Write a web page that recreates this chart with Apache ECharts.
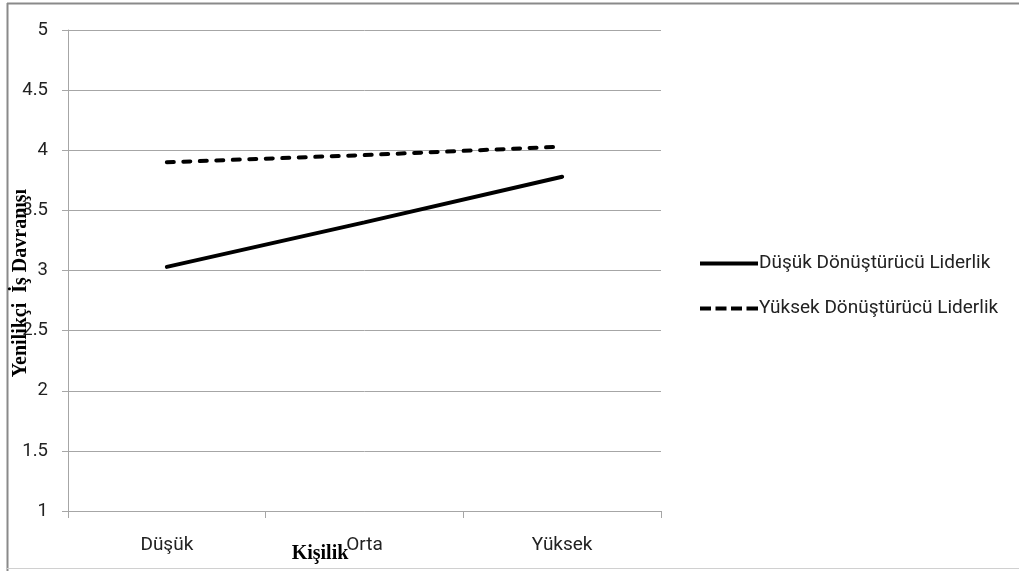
<!DOCTYPE html>
<html>
<head>
<meta charset="utf-8">
<script src="https://cdn.jsdelivr.net/npm/echarts@6/dist/echarts.min.js"></script>
<style>
  html, body { margin: 0; padding: 0; background: #fff; }
  #chart { width: 1019px; height: 571px; }
</style>
</head>
<body>
<div id="chart"></div>
<script>
// Kişilik levels on the x axis
const categories = ['Düşük', 'Orta', 'Yüksek'];
// Yenilikçi İş Davranışı by leadership level
const lowLeadership = [3.03, 3.40, 3.78];
const highLeadership = [3.90, 3.96, 4.03];
const seriesNames = ['Düşük Dönüştürücü Liderlik', 'Yüksek Dönüştürücü Liderlik'];
const yTitle = 'Yenilikçi  İş Davranışı';
const xTitle = 'Kişilik';

const chart = echarts.init(document.getElementById('chart'), null, { renderer: 'canvas' });
const labelFont = 'Roboto, "Open Sans", sans-serif';
const gridColor = '#a6a6a6';

// legend keys: a solid bar and a four-dash bar
const solidIcon = 'path://M0,0H58V4H0Z';
const dashedIcon = 'path://M0,0H11V4H0Z M15.5,0H26.5V4H15.5Z M31,0H42V4H31Z M46.5,0H58V4H46.5Z';

chart.setOption({
  animation: false,
  backgroundColor: '#fff',
  grid: { left: 68, right: 358, top: 30, bottom: 60, containLabel: false },
  legend: {
    orient: 'vertical',
    left: 695,
    top: 249,
    itemWidth: 58,
    itemHeight: 4,
    itemGap: 26,
    textStyle: { fontFamily: labelFont, fontSize: 19, color: '#222', padding: [0, 0, 0, -4] },
    data: [
      { name: seriesNames[0], icon: solidIcon, itemStyle: { color: '#000' } },
      { name: seriesNames[1], icon: dashedIcon, itemStyle: { color: '#000' } }
    ]
  },
  xAxis: {
    type: 'category',
    data: categories,
    boundaryGap: true,
    axisLine: { lineStyle: { color: gridColor, width: 1 } },
    axisTick: { show: true, length: 7, alignWithLabel: false, lineStyle: { color: gridColor } },
    axisLabel: { fontFamily: labelFont, fontSize: 19, color: '#222', margin: 25 },
    splitLine: { show: false }
  },
  yAxis: {
    type: 'value',
    min: 1,
    max: 5,
    interval: 0.5,
    axisLine: { show: true, lineStyle: { color: gridColor, width: 1 } },
    axisTick: { show: true, length: 6, lineStyle: { color: gridColor } },
    axisLabel: { fontFamily: labelFont, fontSize: 18.5, color: '#222', margin: 20 },
    splitLine: { show: true, lineStyle: { color: gridColor, width: 1 } }
  },
  series: [
    {
      name: seriesNames[0],
      type: 'line',
      data: lowLeadership,
      symbol: 'none',
      lineStyle: { color: '#000', width: 4, type: 'solid', cap: 'round' },
      itemStyle: { color: '#000' }
    },
    {
      name: seriesNames[1],
      type: 'line',
      data: highLeadership,
      symbol: 'none',
      lineStyle: { color: '#000', width: 4, type: [7, 9.5], cap: 'round' },
      itemStyle: { color: '#000' }
    }
  ],
  graphic: [
    // outer frame
    { type: 'line', shape: { x1: 7, y1: 3.5, x2: 1019, y2: 3.5 }, style: { stroke: '#8a8a8a', lineWidth: 2 }, silent: true },
    { type: 'line', shape: { x1: 7.5, y1: 3, x2: 7.5, y2: 571 }, style: { stroke: '#8a8a8a', lineWidth: 2 }, silent: true },
    { type: 'line', shape: { x1: 7, y1: 568.5, x2: 1019, y2: 568.5 }, style: { stroke: '#d0d0d0', lineWidth: 1 }, silent: true },
    // axis titles
    {
      type: 'text', x: 21, y: 283, rotation: Math.PI / 2, z: 10,
      style: { text: yTitle, fontFamily: '"Liberation Serif", "Times New Roman", serif', fontWeight: 'bold', fontSize: 20, fill: '#000', align: 'center', verticalAlign: 'middle' }
    },
    {
      type: 'text', x: 320, y: 554, z: 10,
      style: { text: xTitle, fontFamily: '"Liberation Serif", "Times New Roman", serif', fontWeight: 'bold', fontSize: 20, fill: '#000', align: 'center', verticalAlign: 'middle' }
    }
  ]
});
</script>
</body>
</html>
